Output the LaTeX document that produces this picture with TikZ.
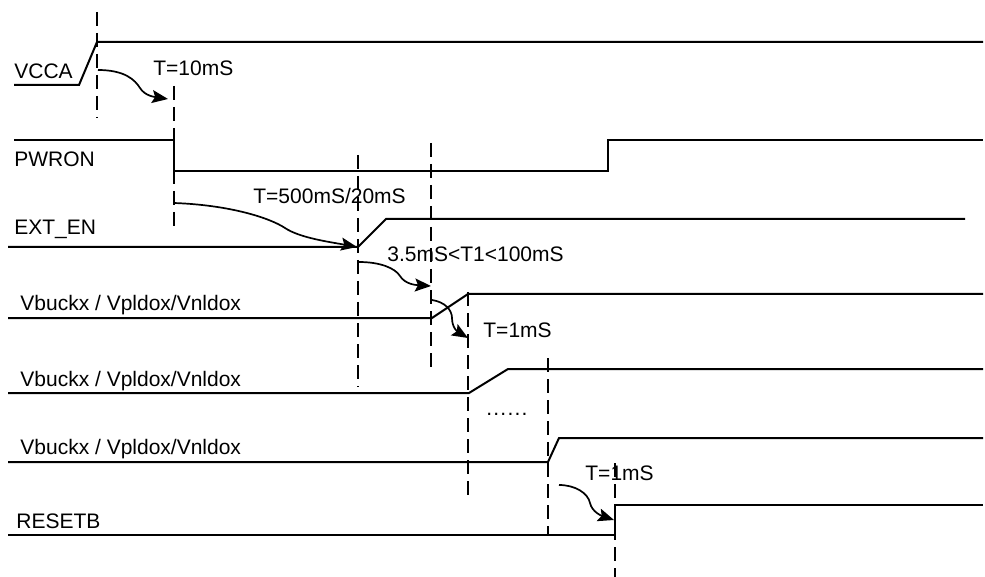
\documentclass[tikz,border=0pt]{standalone}
\usepackage{fontspec}
\setmainfont{Liberation Sans}
\usetikzlibrary{arrows.meta}
\begin{document}
\begin{tikzpicture}[x=0.5pt,y=-0.5pt,
  sig/.style={line width=1pt, line join=miter},
  guide/.style={line width=0.8pt, dash pattern=on 7pt off 3.5pt},
  delay/.style={line width=0.85pt, -{Stealth[length=8pt,width=6.5pt,inset=1.5pt]}},
  lbl/.style={anchor=base west, inner sep=0pt, font=\fontsize{10.5}{12}\selectfont}]
\useasboundingbox (0,0) rectangle (985,577);

% signal waveforms
\draw[sig] (14,85) -- (79,85) -- (97,42) -- (983,42);
\draw[sig] (14,140) -- (174,140) -- (174,171) -- (608,171) -- (608,140) -- (983,140);
\draw[sig] (8,247) -- (358,247) -- (386,219) -- (965,219);
\draw[sig] (8,318) -- (432,318) -- (468,294) -- (983,294);
\draw[sig] (8,393) -- (469,393) -- (508,369) -- (983,369);
\draw[sig] (8,462) -- (548,462) -- (559,438) -- (983,438);
\draw[sig] (8,535) -- (615,535) -- (615,505) -- (983,505);

% dashed guides
\draw[guide] (97,12) -- (97,118);
\draw[guide] (174,86) -- (174,232);
\draw[guide] (358,155) -- (358,387);
\draw[guide] (431,143) -- (431,370);
\draw[guide] (468,292) -- (468,495);
\draw[guide] (548,358) -- (548,535);
\draw[guide] (615,463) -- (615,577);

% labels
\node[lbl] (vcca) at (14,79) {VCCA};
\node[lbl] (pwron) at (14,167) {PWRON};
\node[lbl] (exten) at (14,235) {EXT\_EN};
\node[lbl] (vb1) at (20,310) {Vbuckx / Vpldox/Vnldox};
\node[lbl] (vb2) at (20,386) {Vbuckx / Vpldox/Vnldox};
\node[lbl] (vb3) at (20,454) {Vbuckx / Vpldox/Vnldox};
\node[lbl] (rst) at (16,528) {RESETB};

\node[lbl] (t10) at (153,76) {T=10mS};
\node[lbl] (t500) at (253,204) {T=500mS/20mS};
\node[lbl] (t1) at (387,262) {3.5mS<T1<100mS};
\node[lbl] (t1ms) at (483,337) {T=1mS};
\node[lbl] (t1msb) at (585,480) {T=1mS};
\node[lbl] (dots) at (486,415) {.\kern0.6pt.\kern0.6pt.\kern0.6pt.\kern0.6pt.\kern0.6pt.};

% delay arrows
\coordinate (a1s) at (98,70);   \coordinate (a1e) at (168,99);
\coordinate (a2s) at (174,203); \coordinate (a2e) at (357,247);
\coordinate (a3s) at (359,262); \coordinate (a3e) at (431,286);
\coordinate (a4s) at (432,300); \coordinate (a4e) at (468,338);
\coordinate (a5s) at (559,485); \coordinate (a5e) at (614,520);

\draw[delay] (a1s) .. controls (125,70) and (135,80) .. (140,88) .. controls (145,96) and (155,97) .. (a1e);
\draw[delay] (a2s) .. controls (230,205) and (270,218) .. (285,228) .. controls (300,238) and (330,242) .. (a2e);
\draw[delay] (a3s) .. controls (380,262) and (395,268) .. (400,276) .. controls (405,284) and (415,285) .. (a3e);
\draw[delay] (a4s) .. controls (445,302) and (452,310) .. (452,318) .. controls (452,328) and (458,332) .. (a4e);
\draw[delay] (a5s) .. controls (575,485) and (588,493) .. (590,503) .. controls (592,512) and (602,516) .. (a5e);
\end{tikzpicture}
\end{document}
